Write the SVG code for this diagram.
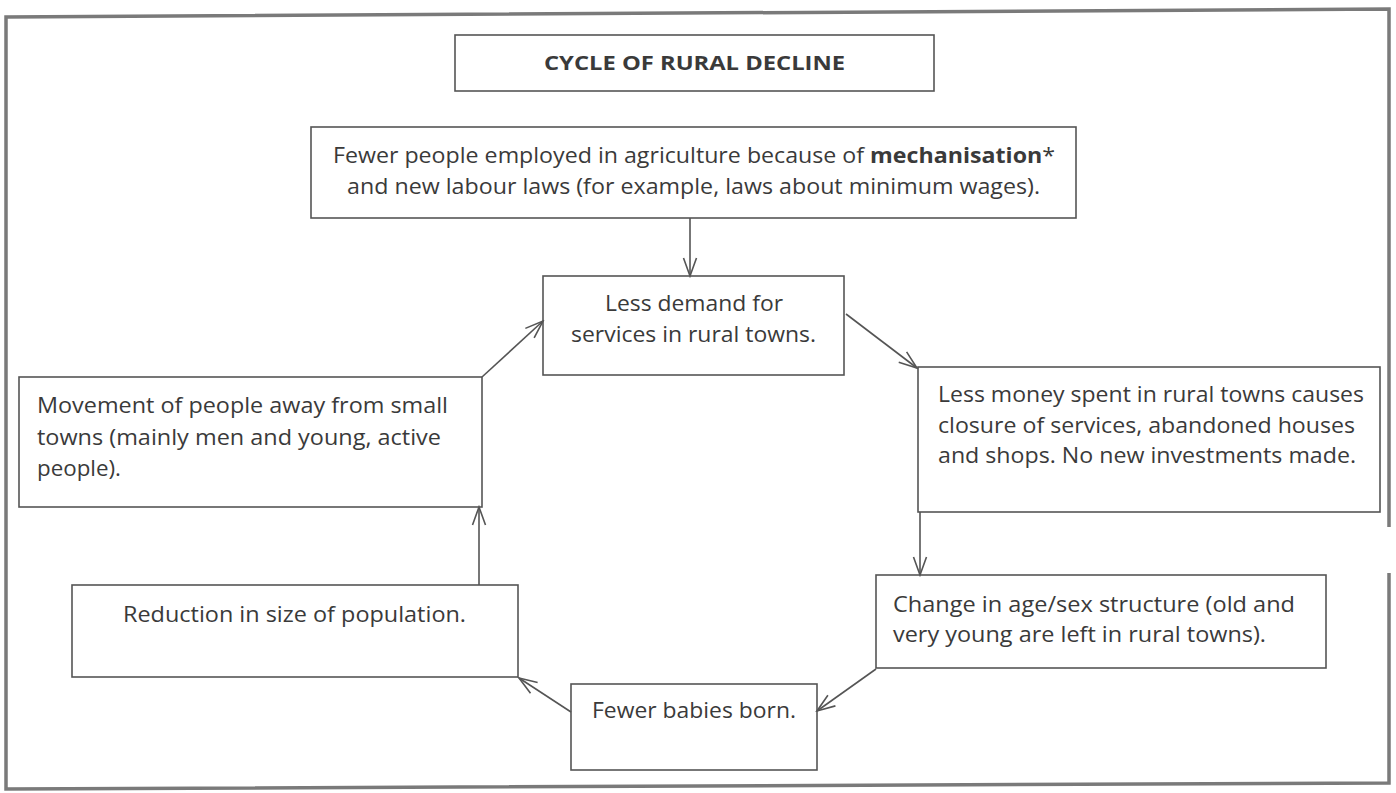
<svg xmlns="http://www.w3.org/2000/svg" width="1396" height="793" viewBox="0 0 1396 793">
<defs>
<style>
.box{fill:#fff;stroke:#555;stroke-width:1.6}
.t{font-family:"Open Sans","Noto Sans","DejaVu Sans",sans-serif;font-size:21px;fill:#3a3a3a}
.c{text-anchor:middle}
.ttl{font-weight:bold;font-size:20px}
.con{fill:none;stroke:#555;stroke-width:1.6}
.frame{fill:none;stroke:#7a7a7a;stroke-width:3.5}
</style>
<marker id="ah" viewBox="-20 -9 22 18" refX="0" refY="0" markerWidth="22" markerHeight="18" markerUnits="userSpaceOnUse" orient="auto">
<path d="M-18,-6.5 L0,0 L-18,6.5" fill="none" stroke="#555" stroke-width="1.6"/>
</marker>
</defs>
<rect width="1396" height="793" fill="#fff"/>
<path class="frame" d="M1389,527 L1389,9 L6,17 L6,789 L1389,783 L1389,573"/>

<g id="title">
<rect class="box" x="455" y="35" width="479" height="56"/>
<text class="t c ttl" x="694.5" y="70" textLength="301" lengthAdjust="spacingAndGlyphs">CYCLE OF RURAL DECLINE</text>
</g>

<g id="fewer-employed">
<rect class="box" x="311" y="127" width="765" height="91"/>
<text class="t c" x="694" y="163" textLength="722" lengthAdjust="spacingAndGlyphs">Fewer people employed in agriculture because of <tspan font-weight="bold">mechanisation</tspan>*</text>
<text class="t c" x="693.5" y="194" textLength="693" lengthAdjust="spacingAndGlyphs">and new labour laws (for example, laws about minimum wages).</text>
</g>

<g id="less-demand">
<rect class="box" x="543" y="276" width="301" height="99"/>
<text class="t c" x="694" y="311" textLength="178" lengthAdjust="spacingAndGlyphs">Less demand for</text>
<text class="t c" x="693.5" y="342" textLength="245" lengthAdjust="spacingAndGlyphs">services in rural towns.</text>
</g>

<g id="less-money">
<rect class="box" x="918" y="367" width="462" height="145"/>
<text class="t" x="938" y="402" textLength="426" lengthAdjust="spacingAndGlyphs">Less money spent in rural towns causes</text>
<text class="t" x="938" y="433" textLength="417" lengthAdjust="spacingAndGlyphs">closure of services, abandoned houses</text>
<text class="t" x="938" y="463" textLength="418" lengthAdjust="spacingAndGlyphs">and shops. No new investments made.</text>
</g>

<g id="movement">
<rect class="box" x="19" y="377" width="463" height="130"/>
<text class="t" x="37" y="413" textLength="411" lengthAdjust="spacingAndGlyphs">Movement of people away from small</text>
<text class="t" x="37" y="445" textLength="404" lengthAdjust="spacingAndGlyphs">towns (mainly men and young, active</text>
<text class="t" x="37" y="476" textLength="84" lengthAdjust="spacingAndGlyphs">people).</text>
</g>

<g id="reduction">
<rect class="box" x="72" y="585" width="446" height="92"/>
<text class="t c" x="294.5" y="622" textLength="343" lengthAdjust="spacingAndGlyphs">Reduction in size of population.</text>
</g>

<g id="change">
<rect class="box" x="876" y="575" width="450" height="93"/>
<text class="t" x="893" y="612" textLength="402" lengthAdjust="spacingAndGlyphs">Change in age/sex structure (old and</text>
<text class="t" x="893" y="642" textLength="373" lengthAdjust="spacingAndGlyphs">very young are left in rural towns).</text>
</g>

<g id="fewer-babies">
<rect class="box" x="571" y="684" width="246" height="86"/>
<text class="t" x="592" y="718" textLength="204" lengthAdjust="spacingAndGlyphs">Fewer babies born.</text>
</g>

<g id="connectors">
<line class="con" x1="690" y1="218" x2="690" y2="276" marker-end="url(#ah)"/>
<line class="con" x1="846" y1="314" x2="917" y2="368" marker-end="url(#ah)"/>
<line class="con" x1="920" y1="512" x2="920" y2="575" marker-end="url(#ah)"/>
<line class="con" x1="876" y1="669" x2="817" y2="711" marker-end="url(#ah)"/>
<line class="con" x1="571" y1="712" x2="519" y2="678" marker-end="url(#ah)"/>
<line class="con" x1="479" y1="585" x2="479" y2="507" marker-end="url(#ah)"/>
<line class="con" x1="482" y1="377" x2="543" y2="321" marker-end="url(#ah)"/>
</g>
</svg>
